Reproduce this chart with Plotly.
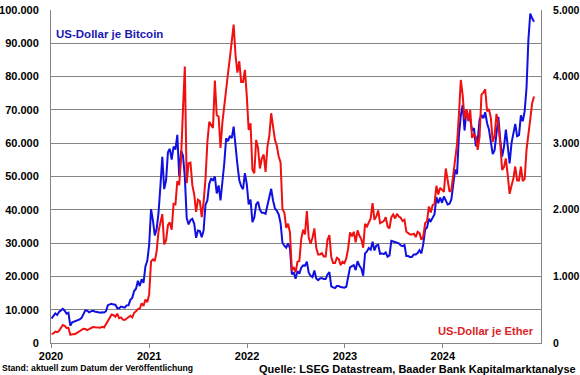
import pandas as pd
import plotly.graph_objects as go

btc_2020 = [7350, 8050, 8900, 8400, 9350,
            9800, 10250, 9700, 8800,
            9100, 5200, 6200, 6400,
            6800, 6900, 7100, 7550,
            8900, 9800, 9700, 9200, 9500,
            9650, 9450, 9350, 9150,
            9100, 9250, 9150, 9550, 11350,
            11600, 11800, 11550, 11500,
            10500, 10400, 10950, 10750,
            10600, 11300, 11350, 12950, 13550,
            15600, 16300, 18700, 17100,
            19150, 18050, 23000, 24700]
btc_2021 = [29400, 40200, 36800, 32300, 34300,
            39200, 47200, 55900, 46200,
            48800, 57300, 58300, 55100,
            59000, 58100, 62500, 50100, 57800,
            56300, 49800, 37500, 35600,
            36900, 37300, 35800, 31600,
            33800, 33600, 31800, 33800, 41500,
            42800, 47800, 49300, 48900,
            50000, 44900, 47300, 42800,
            48200, 53900, 61500, 60600, 62200,
            61500, 65000, 58100, 53600,
            48900, 47100, 46200, 51000, 47700]
btc_2022 = [41600, 43100, 36300, 37700,
            41600, 42400, 40000, 39100,
            39100, 38800, 41300, 44500,
            46300, 42800, 40400, 39700, 38600,
            36000, 30100, 29200, 28600,
            29900, 28400, 20600, 21200,
            19300, 21600, 20800, 22600, 23300,
            23200, 24400, 21100, 20200,
            19800, 21800, 19400, 18900, 19400,
            19500, 19200, 19200, 20600,
            21300, 17000, 16700, 16500,
            17100, 17100, 16800, 16800, 16600]
btc_2023 = [16900, 19900, 22700, 23100,
            23400, 21900, 24600, 23200,
            22400, 20200, 26900, 27500, 28500,
            28000, 30400, 27800, 29300,
            29500, 26800, 26900, 26700,
            27200, 25900, 26300, 30700, 30500,
            30300, 30300, 29900, 29300,
            29100, 29400, 26100, 26100,
            25800, 25900, 26600, 26600, 27000,
            27900, 26900, 29700, 34100,
            34700, 37300, 36600, 37700,
            38700, 43800, 42000, 43700, 42100]
btc_2024 = [44000, 42800, 41600, 41800,
            43200, 47800, 52100, 50700,
            62400, 68300, 71500, 63800, 69900,
            67800, 67200, 63800, 64500,
            59100, 60800, 67100, 68500, 67500,
            69300, 66000, 64100, 60300,
            56700, 57900, 64100, 67900,
            61000, 56000, 58900, 64100, 59100,
            53900, 60000, 63200, 65800,
            62100, 62400, 68400, 66600,
            69500, 76600, 91000, 98900, 97500,
            96500]

eth_2020 = [134, 144, 171, 162, 183,
            223, 270, 258, 227,
            228, 125, 132, 131,
            142, 158, 172, 188,
            214, 212, 194, 208, 220,
            240, 238, 229, 231,
            229, 242, 233, 279, 346,
            378, 427, 417, 395,
            440, 372, 384, 352,
            346, 366, 377, 409, 384,
            454, 476, 510, 517,
            597, 555, 653, 612]
eth_2021 = [730, 1225, 1255, 1230, 1380,
            1680, 1815, 1935, 1480,
            1540, 1770, 1810, 1700,
            2090, 2080, 2430, 2370, 2770,
            3500, 4150, 2400, 2700,
            2710, 2370, 2230, 1970,
            2150, 2130, 1890, 2120, 2460,
            3010, 3320, 3280, 3230,
            3940, 3420, 3400, 2930,
            3310, 3580, 3860, 4050, 4280,
            4500, 4780, 4320, 4060,
            4230, 3920, 3920, 4100, 3710]
eth_2022 = [3200, 3300, 2600, 2550,
            3050, 2930, 2620, 2770,
            2830, 2570, 2950, 3110,
            3450, 3250, 3050, 2960, 2800,
            2710, 2010, 1960, 1730,
            1790, 1660, 1090, 1140,
            1060, 1220, 1230, 1560, 1700,
            1630, 1980, 1580, 1490,
            1580, 1720, 1430, 1330, 1330,
            1350, 1300, 1300, 1550,
            1620, 1290, 1200, 1200,
            1280, 1260, 1170, 1220, 1200]
eth_2023 = [1270, 1420, 1660, 1600,
            1670, 1510, 1690, 1610,
            1560, 1430, 1790, 1750, 1820,
            1870, 2100, 1850, 1900,
            1990, 1800, 1810, 1830,
            1890, 1750, 1720, 1890, 1930,
            1870, 1940, 1900, 1880,
            1830, 1850, 1670, 1650,
            1630, 1630, 1640, 1590, 1670,
            1650, 1550, 1600, 1800,
            1830, 2050, 1960, 2070,
            2090, 2360, 2230, 2330, 2300]
eth_2024 = [2270, 2620, 2470, 2270,
            2300, 2520, 2800, 2990,
            3430, 3950, 3720, 3360, 3510,
            3330, 3500, 3080, 3130,
            3100, 2900, 3100, 3730, 3760,
            3810, 3480, 3510, 3380,
            3020, 3110, 3440, 3280,
            3000, 2600, 2640, 2770, 2520,
            2240, 2360, 2470, 2650,
            2440, 2440, 2650, 2430,
            2460, 2900, 3100, 3360, 3600,
            3700]

btc = btc_2020 + btc_2021 + btc_2022 + btc_2023 + btc_2024
eth = eth_2020 + eth_2021 + eth_2022 + eth_2023 + eth_2024
dates = pd.date_range("2020-01-03", periods=len(btc), freq="W-FRI")

year_ticks = ["2020-01-01", "2021-01-01", "2022-01-01", "2023-01-01", "2024-01-01"]
year_labels = ["2020", "2021", "2022", "2023", "2024"]

BLUE = "#1010e0"
RED = "#f01010"
GRID = "#858585"
FONT = "Liberation Sans, Arial, sans-serif"
TICKFONT = dict(family=FONT, size=11, color="black", weight="bold")

fig = go.Figure()
fig.add_trace(go.Scatter(x=dates, y=btc, mode="lines", name="Bitcoin",
                         line=dict(color=BLUE, width=2), yaxis="y"))
fig.add_trace(go.Scatter(x=dates, y=eth, mode="lines", name="Ether",
                         line=dict(color=RED, width=2), yaxis="y2"))

fig.update_layout(
    width=580, height=375,
    margin=dict(l=51, r=39, t=10, b=32),
    paper_bgcolor="white", plot_bgcolor="white",
    showlegend=False,
    separators=",.",
    font=dict(family=FONT, size=11, color="black"),
    xaxis=dict(range=["2020-01-01", "2025-01-01"], tickvals=year_ticks, ticktext=year_labels,
               showgrid=False, showline=True, linecolor=GRID, linewidth=1, automargin=False,
               ticks="outside", ticklen=4, tickcolor=GRID, tickfont=TICKFONT,
               ticklabelstandoff=-1),
    yaxis=dict(range=[0, 100000], dtick=10000, tickformat=",d", automargin=False,
               showgrid=True, gridcolor=GRID, gridwidth=1,
               showline=True, linecolor=GRID, linewidth=1, zeroline=False,
               ticks="", ticklabelstandoff=9, tickfont=TICKFONT),
    yaxis2=dict(range=[0, 5000], dtick=1000, tickformat=",d", overlaying="y", side="right",
                showgrid=False, showline=True, linecolor=GRID, linewidth=1, zeroline=False,
                ticks="", ticklabelstandoff=9, automargin=False,
                tickfont=dict(family=FONT, size=10.5, color="black", weight="bold")),
)

fig.add_annotation(text="<b>US-Dollar je Bitcoin</b>", xref="paper", yref="paper",
                   x=0.006, y=0.928, xanchor="left", yanchor="middle", showarrow=False,
                   font=dict(family=FONT, size=11.5, color="#1a1ab4"))
fig.add_annotation(text="<b>US-Dollar je Ether</b>", xref="paper", yref="paper",
                   x=0.99, y=0.036, xanchor="right", yanchor="middle", showarrow=False,
                   font=dict(family=FONT, size=11.2, color="#dc1e28"))
fig.add_annotation(text="<b>Stand: aktuell zum Datum der Veröffentlichung</b>", xref="paper", yref="paper",
                   x=-51/490, y=-25/333, xanchor="left", yanchor="middle", showarrow=False,
                   font=dict(family=FONT, size=8.6, color="black"))
fig.add_annotation(text="<b>Quelle: LSEG Datastream, Baader Bank Kapitalmarktanalyse</b>", xref="paper", yref="paper",
                   x=(578-51)/490, y=-26/333, xanchor="right", yanchor="middle", showarrow=False,
                   font=dict(family=FONT, size=11, color="black"))

fig.write_html("out.html", config={"displayModeBar": False},
               post_script="document.body.style.margin='0';")
